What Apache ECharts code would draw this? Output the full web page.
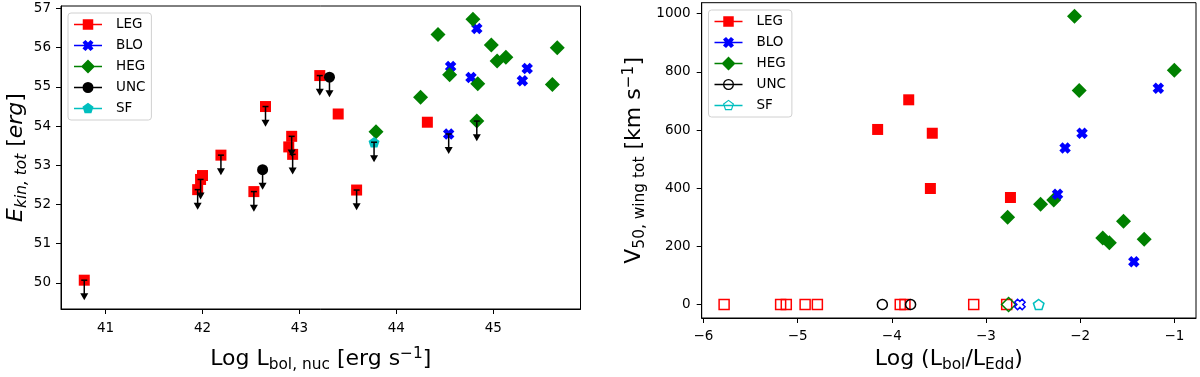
<!DOCTYPE html>
<html>
<head>
<meta charset="utf-8">
<script src="https://cdn.jsdelivr.net/npm/echarts@6/dist/echarts.min.js"></script>
<style>
  html, body { margin: 0; padding: 0; background: #fff; }
  #chart { width: 1200px; height: 377px; }
</style>
</head>
<body>
<div id="chart"></div>
<script>
// ---- tick values ----
const leftXTicks = [41, 42, 43, 44, 45];
const leftYTicks = [50, 51, 52, 53, 54, 55, 56, 57];
const rightXTicks = [-6, -5, -4, -3, -2, -1];
const rightYTicks = [0, 200, 400, 600, 800, 1000];

// ---- left panel: [log Lbol,nuc, log Ekin,tot, upper limit?] ----
const legKin = [
  [40.78, 50.07, 1], [41.95, 52.38, 1], [42.00, 52.74, 0], [41.98, 52.64, 1],
  [42.19, 53.26, 1], [42.53, 52.33, 1], [42.65, 54.50, 1], [42.89, 53.47, 0],
  [42.92, 53.74, 1], [42.93, 53.28, 1], [43.21, 55.29, 1], [43.40, 54.31, 0],
  [43.59, 52.37, 1], [44.32, 54.10, 0]
];
const bloKin = [
  [44.56, 55.52, 0], [44.54, 53.80, 1], [44.83, 56.49, 0], [44.77, 55.24, 0],
  [45.35, 55.47, 0], [45.30, 55.16, 0]
];
const hegKin = [
  [43.79, 53.86, 0], [44.25, 54.74, 0], [44.43, 56.34, 0], [44.55, 55.31, 0],
  [44.79, 56.73, 0], [44.84, 55.08, 0], [44.83, 54.13, 1], [44.98, 56.07, 0],
  [45.04, 55.66, 0], [45.13, 55.76, 0], [45.66, 56.00, 0], [45.61, 55.06, 0]
];
const uncKin = [[42.62, 52.89, 1], [43.31, 55.25, 1]];
const sfKin = [[43.77, 53.59, 1]];
const limitErr = 0.5; // arrow length of upper limits (dex)

// ---- right panel: [log Lbol/LEdd, V50 wing tot] ----
const legV50 = [[-4.15, 602], [-3.82, 704], [-3.57, 589], [-3.59, 399], [-2.74, 368]];
const bloV50 = [[-2.24, 379], [-2.16, 538], [-1.98, 589], [-1.43, 147], [-1.17, 744]];
const hegV50 = [
  [-2.77, 300], [-2.42, 345], [-2.28, 359], [-2.06, 991], [-2.01, 736],
  [-1.54, 286], [-1.76, 229], [-1.69, 212], [-1.32, 224], [-1.00, 806]
];
// no wing detected -> plotted at V50 = 0
const legNoWing = [-5.78, -5.18, -5.12, -4.92, -4.79, -3.91, -3.86, -3.13, -2.78];
const uncNoWing = [-4.10, -3.80];
const hegNoWing = [-2.76];
const bloNoWing = [-2.64];
const sfNoWing = [-2.44];

const FONT = 'DejaVu Sans';
const RED = '#ff0000', BLUE = '#0000ff', GREEN = '#008000', BLACK = '#000000', CYAN = '#00bfbf';

const X_PATH = 'path://M28,0 L50,22 L72,0 L100,28 L78,50 L100,72 L72,100 L50,78 L28,100 L0,72 L22,50 L0,28 Z';
const PENTA_PATH = 'path://M50,0 L97.6,34.5 L79.4,90.5 L20.6,90.5 L2.4,34.5 Z';

// legend icons: line + marker, drawn in a 280x140 box (10 units = 1px)
const corners = 'M0,0 L0.1,0 L0,0.1 Z M280,140 L279.9,140 L280,139.9 Z ';
const iconLine = 'M0,62.5 L280,62.5 L280,77.5 L0,77.5 Z ';
const icons = {
  square: 'path://' + corners + iconLine + 'M87.5,17.5 L192.5,17.5 L192.5,122.5 L87.5,122.5 Z',
  x: 'path://' + corners + iconLine + 'M115.2,15 L140,39.2 L164.8,15 L195,39.2 L170.8,70 L195,100.8 L164.8,125 L140,100.8 L115.2,125 L85,100.8 L109.2,70 L85,39.2 Z',
  diamond: 'path://' + corners + iconLine + 'M140,0 L210,70 L140,140 L70,70 Z',
  circle: 'path://' + corners + iconLine + 'M85,70 A55,55 0 1,1 195,70 A55,55 0 1,1 85,70 Z',
  penta: 'path://' + corners + iconLine + 'M140,12 L195.2,52.1 L174.1,116.9 L105.9,116.9 L84.8,52.1 Z',
  ring: 'path://' + corners + iconLine + 'M85,70 A55,55 0 1,1 195,70 A55,55 0 1,1 85,70 Z M98,70 A42,42 0 1,0 182,70 A42,42 0 1,0 98,70 Z',
  pentaRing: 'path://' + corners + iconLine + 'M140,12 L195.2,52.1 L174.1,116.9 L105.9,116.9 L84.8,52.1 Z M140,26 L98.2,56.4 L114.1,105.6 L165.9,105.6 L181.8,56.4 Z'
};

const rich = {
  n: { fontSize: 22, lineHeight: 26, fontFamily: FONT, color: '#000' },
  ni: { fontSize: 22, lineHeight: 26, fontFamily: FONT, color: '#000', fontStyle: 'italic' },
  s: { fontSize: 15.4, lineHeight: 14.6, verticalAlign: 'bottom', fontFamily: FONT, color: '#000' },
  si: { fontSize: 15.4, lineHeight: 14.6, verticalAlign: 'bottom', fontFamily: FONT, color: '#000', fontStyle: 'italic' },
  p: { fontSize: 15.4, lineHeight: 15.2, verticalAlign: 'top', fontFamily: FONT, color: '#000' }
};

function axis(grid, min, max, ticks, name, gap, margin) {
  return {
    type: 'value', gridIndex: grid, min: min, max: max,
    axisLine: { show: true, onZero: false, lineStyle: { color: '#000', width: 1 } },
    axisTick: { show: true, length: 5, customValues: ticks, lineStyle: { color: '#000', width: 1 } },
    axisLabel: { customValues: ticks, margin: margin, fontSize: 13.5, fontFamily: FONT, color: '#000',
      formatter: v => String(v).replace('-', '\u2212') },
    splitLine: { show: false },
    name: name, nameLocation: 'middle', nameGap: gap,
    nameTextStyle: { rich: rich }
  };
}

function scatter(name, data, symbol, size, color, xi, hollow) {
  return {
    type: 'scatter', name: name, xAxisIndex: xi, yAxisIndex: xi,
    data: data, symbol: symbol, symbolSize: size, symbolKeepAspect: true,
    itemStyle: hollow
      ? { color: 'rgba(0,0,0,0)', borderColor: color, borderWidth: 1.5, opacity: 1 }
      : { color: color, opacity: 1 },
    emphasis: { disabled: true }, z: 3
  };
}

function renderLimit(params, api) {
  const p0 = api.coord([api.value(0), api.value(1)]);
  const p1 = api.coord([api.value(0), api.value(1) - limitErr]);
  const st = { stroke: '#000', lineWidth: 1.5 };
  return {
    type: 'group', children: [
      { type: 'line', shape: { x1: p0[0], y1: p0[1], x2: p1[0], y2: p1[1] - 4 }, style: st },
      { type: 'line', shape: { x1: p0[0] - 3, y1: p0[1], x2: p0[0] + 3, y2: p0[1] }, style: st },
      { type: 'polygon', shape: { points: [[p1[0] - 4, p1[1] - 6.5], [p1[0] + 4, p1[1] - 6.5], [p1[0], p1[1] + 0.5]] },
        style: { fill: '#000' } }
    ]
  };
}

const xy = arr => arr.map(d => [d[0], d[1]]);
const zeroRow = arr => arr.map(x => [x, 0]);
const limits = [].concat(legKin, bloKin, hegKin, uncKin, sfKin).filter(d => d[2]).map(d => [d[0], d[1]]);

const legendBase = {
  orient: 'vertical', itemWidth: 28, itemHeight: 14, itemGap: 7,
  padding: [4.5, 6, 4.5, 6], borderColor: '#d0d0d0', borderWidth: 1, borderRadius: 3,
  backgroundColor: 'rgba(255,255,255,0.8)', selectedMode: false,
  textStyle: { fontSize: 13.5, fontFamily: FONT, color: '#000', padding: [0, 0, 0, 9] }, z: 10
};
const item = (name, icon, color) => ({ name: name, icon: icon, itemStyle: { color: color, borderWidth: 0, opacity: 1 } });

const chart = echarts.init(document.getElementById('chart'));
chart.setOption({
  animation: false,
  textStyle: { fontFamily: FONT },
  grid: [
    { left: 61, top: 6, width: 519.5, height: 311.3, show: true, borderColor: '#000', borderWidth: 1 },
    { left: 701.7, top: 2.7, width: 494.3, height: 319.3, show: true, borderColor: '#000', borderWidth: 1 }
  ],
  xAxis: [
    axis(0, 40.54, 45.90, leftXTicks, '{n|Log L}{s|bol, nuc}{n| [erg s}{p|\u22121}{n|]}', 37, 12),
    axis(1, -6.018, -0.77, rightXTicks, '{n|Log (L}{s|bol}{n|/L}{s|Edd}{n|)}', 28, 11)
  ],
  yAxis: [
    axis(0, 49.335, 57.065, leftYTicks, '{ni|E}{si|kin, tot}{n| [}{ni|erg}{n|]}', 32, 10),
    axis(1, -46.5, 1038, rightYTicks, '{n|V}{s|50, wing tot}{n| [km s}{p|\u22121}{n|]}', 54, 11)
  ],
  legend: [
    Object.assign({}, legendBase, { left: 68, top: 13, data: [
      item('LEG', icons.square, RED), item('BLO', icons.x, BLUE), item('HEG', icons.diamond, GREEN),
      item('UNC', icons.circle, BLACK), item('SF', icons.penta, CYAN)
    ] }),
    Object.assign({}, legendBase, { left: 708.5, top: 10, data: [
      item('LEG', icons.square, RED), item('BLO', icons.x, BLUE), item('HEG', icons.diamond, GREEN),
      item('UNC', icons.ring, BLACK), item('SF', icons.pentaRing, CYAN)
    ] })
  ],
  series: [
    scatter('LEG', xy(legKin), 'rect', 11, RED, 0),
    scatter('BLO', xy(bloKin), X_PATH, 11.5, BLUE, 0),
    scatter('HEG', xy(hegKin), 'diamond', 15, GREEN, 0),
    scatter('UNC', xy(uncKin), 'circle', 11, BLACK, 0),
    scatter('SF', xy(sfKin), PENTA_PATH, 11, CYAN, 0),
    {
      type: 'custom', name: 'limits', xAxisIndex: 0, yAxisIndex: 0,
      data: limits, renderItem: renderLimit, z: 4, silent: true
    },
    scatter('LEG', legV50, 'rect', 11, RED, 1),
    scatter('HEG', hegV50, 'diamond', 15, GREEN, 1),
    scatter('BLO', bloV50, X_PATH, 11.5, BLUE, 1),
    scatter('LEG', zeroRow(legNoWing), 'rect', 10, RED, 1, true),
    scatter('UNC', zeroRow(uncNoWing), 'circle', 10, BLACK, 1, true),
    scatter('HEG', zeroRow(hegNoWing), 'diamond', 14, GREEN, 1, true),
    scatter('BLO', zeroRow(bloNoWing), X_PATH, 10.5, BLUE, 1, true),
    scatter('SF', zeroRow(sfNoWing), PENTA_PATH, 10.5, CYAN, 1, true)
  ]
});
</script>
</body>
</html>
